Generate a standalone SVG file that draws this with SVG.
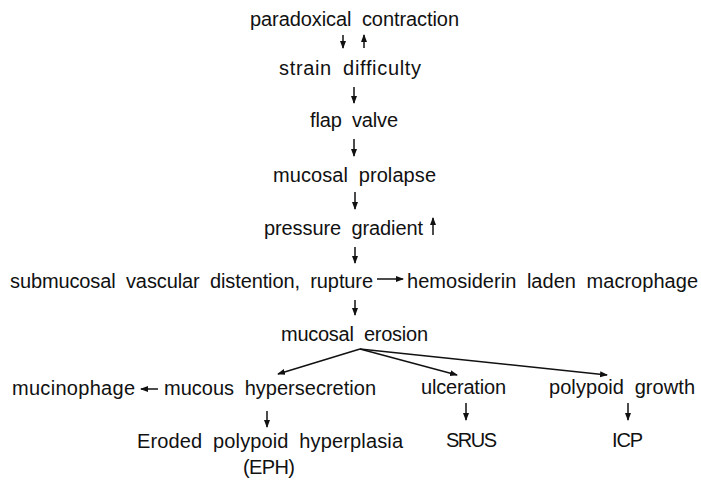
<svg xmlns="http://www.w3.org/2000/svg" width="701" height="480" viewBox="0 0 701 480">
<style>
  text { font-family: "Liberation Sans", Arial, Helvetica, sans-serif; font-size: 20px; fill: #111; word-spacing: 5px; }
  .c { stroke: #111; stroke-width: 1.5; fill: none; }
</style>
<defs>
  <marker id="ah" markerUnits="userSpaceOnUse" markerWidth="8" markerHeight="8" viewBox="0 0 8 8" refX="7" refY="4" orient="auto">
    <path d="M0,1 L8,4 L0,7 Z" fill="#111"/>
  </marker>
</defs>
<rect width="701" height="480" fill="#fff"/>
<g id="n-paradoxical"><text x="250" y="26" textLength="209" lengthAdjust="spacing">paradoxical contraction</text></g>
<g id="n-strain"><text x="279" y="75" textLength="142" lengthAdjust="spacing">strain difficulty</text></g>
<g id="n-flap"><text x="310" y="127" textLength="88" lengthAdjust="spacing">flap valve</text></g>
<g id="n-prolapse"><text x="273" y="182" textLength="163" lengthAdjust="spacing">mucosal prolapse</text></g>
<g id="n-pressure"><text x="264" y="235" textLength="159" lengthAdjust="spacing">pressure gradient</text></g>
<g id="n-submucosal"><text x="10" y="288" textLength="363" lengthAdjust="spacing">submucosal vascular distention, rupture</text></g>
<g id="n-hemosiderin"><text x="407" y="288" textLength="291" lengthAdjust="spacing">hemosiderin laden macrophage</text></g>
<g id="n-erosion"><text x="281" y="341" textLength="147" lengthAdjust="spacing">mucosal erosion</text></g>
<g id="n-mucinophage"><text x="12" y="395" textLength="123" lengthAdjust="spacing">mucinophage</text></g>
<g id="n-hypersecretion"><text x="164" y="395" textLength="212" lengthAdjust="spacing">mucous hypersecretion</text></g>
<g id="n-ulceration"><text x="421" y="394" textLength="85" lengthAdjust="spacing">ulceration</text></g>
<g id="n-polypoid"><text x="549" y="394" textLength="146" lengthAdjust="spacing">polypoid growth</text></g>
<g id="n-eph"><text x="137" y="448" textLength="266" lengthAdjust="spacing">Eroded polypoid hyperplasia</text><text x="243" y="474" textLength="52" lengthAdjust="spacing">(EPH)</text></g>
<g id="n-srus"><text x="446" y="447" textLength="51" lengthAdjust="spacing">SRUS</text></g>
<g id="n-icp"><text x="612" y="447" textLength="31" lengthAdjust="spacing">ICP</text></g>
<g id="connectors" class="c">
  <line class="c" x1="343" y1="35" x2="343" y2="48" marker-end="url(#ah)"/>
  <line class="c" x1="364" y1="48" x2="364" y2="35" marker-end="url(#ah)"/>
  <line class="c" x1="354" y1="87" x2="354" y2="103" marker-end="url(#ah)"/>
  <line class="c" x1="354" y1="139" x2="354" y2="156" marker-end="url(#ah)"/>
  <line class="c" x1="355" y1="192" x2="355" y2="209" marker-end="url(#ah)"/>
  <line class="c" x1="433" y1="235" x2="433" y2="218" marker-end="url(#ah)"/>
  <line class="c" x1="355" y1="247" x2="355" y2="263" marker-end="url(#ah)"/>
  <line class="c" x1="377" y1="279" x2="403" y2="279" marker-end="url(#ah)"/>
  <line class="c" x1="355" y1="300" x2="355" y2="315" marker-end="url(#ah)"/>
  <line class="c" x1="360" y1="349" x2="278" y2="374" marker-end="url(#ah)"/>
  <line class="c" x1="360" y1="349" x2="457" y2="375" marker-end="url(#ah)"/>
  <line class="c" x1="360" y1="349" x2="607" y2="375" marker-end="url(#ah)"/>
  <line class="c" x1="158" y1="389" x2="141" y2="389" marker-end="url(#ah)"/>
  <line class="c" x1="267" y1="411" x2="267" y2="427" marker-end="url(#ah)"/>
  <line class="c" x1="466" y1="403" x2="466" y2="420" marker-end="url(#ah)"/>
  <line class="c" x1="628" y1="403" x2="628" y2="420" marker-end="url(#ah)"/>
</g>
</svg>
